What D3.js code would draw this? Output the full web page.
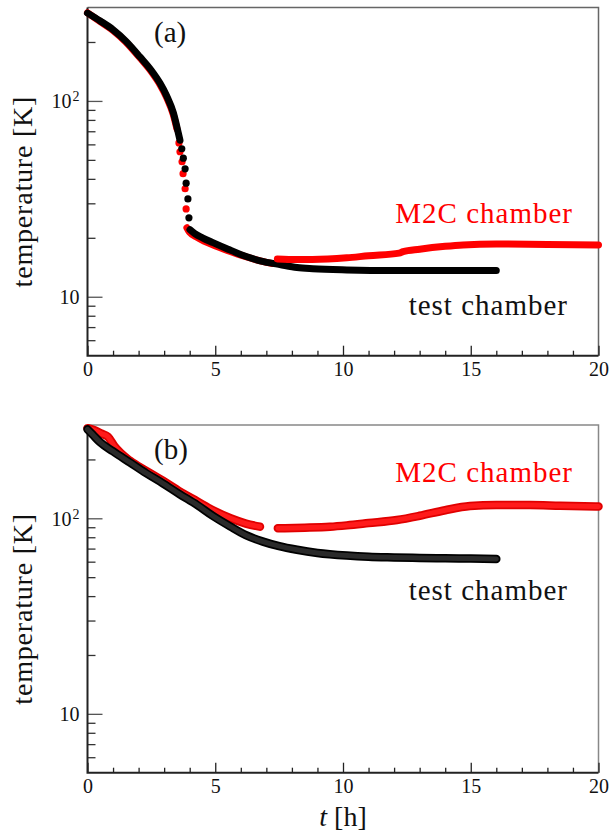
<!DOCTYPE html>
<html>
<head>
<meta charset="utf-8">
<script src="https://cdn.jsdelivr.net/npm/d3@7/dist/d3.min.js"></script>
<style>
  body { margin: 0; background: #fff; }
  svg text { font-family: "Liberation Serif", "Times New Roman", Tinos, "DejaVu Serif", "Noto Serif", serif !important; }
</style>
</head>
<body>
<div class="chart"></div>
<script>
// panel (a): time [h], temperature [K]
const aTestStart = [[0, 281], [0.5, 256], [1.0, 231], [1.5, 202], [2.05, 168], [2.5, 143], [2.84, 123], [3.1, 106], [3.36, 87], [3.55, 69], [3.62, 63]]
const aTestDrop = [[3.69, 57], [3.75, 51], [3.82, 45], [3.86, 38], [3.93, 31.6], [3.97, 25.3]]
const aTestEnd = [[4.01, 22], [4.2, 21], [4.5, 20], [4.91, 18.9], [5.5, 17.5], [6.24, 16], [6.8, 15.2], [7.53, 14.6], [8.2, 14.1], [8.82, 13.9], [10.15, 13.7], [12, 13.6], [14, 13.6], [16, 13.6]]
const aM2cStart = [[0, 282], [0.5, 254], [1.0, 229], [1.5, 200], [2.05, 166], [2.5, 141], [2.84, 121], [3.1, 104], [3.36, 85], [3.5, 72]]
const aM2cDrop = [[3.58, 61], [3.62, 55], [3.70, 48.9], [3.74, 42.5], [3.82, 35.6], [3.86, 28.1]]
const aM2cMid = [[3.89, 22.5], [4.0, 21.3], [4.3, 20.1], [4.9, 18.4], [5.5, 17.2], [6.2, 16.0], [6.8, 15.2], [7.2, 14.8]]
const aM2cEnd = [[7.43, 15.6], [8.2, 15.5], [8.8, 15.5], [10.15, 15.8], [11, 16.2], [12.2, 16.7], [12.35, 17.0], [13, 17.5], [14, 18.1], [14.7, 18.4], [16, 18.6], [18, 18.5], [20, 18.4]]

// panel (b)
const bTest = [[0, 285], [0.2, 268], [0.49, 245], [1.0, 220], [1.66, 193], [2.3, 170], [2.95, 151], [3.6, 133], [4.29, 117], [4.9, 103], [5.58, 91], [6.2, 82], [6.87, 76], [7.5, 72], [8.2, 69], [9, 66.5], [10.15, 64.5], [11, 63.6], [12, 63.1], [13, 62.7], [14, 62.4], [15, 62.2], [16, 62]]
const bM2cStart = [[0, 289], [0.3, 281], [0.55, 271], [0.8, 261], [1.05, 234], [1.66, 197], [2.3, 175], [2.95, 156], [3.62, 137], [4.3, 122], [4.91, 110], [5.6, 100], [6.2, 94], [6.75, 90.6]]
const bM2cEnd = [[7.45, 88.9], [8.5, 89.5], [9.49, 90.5], [10.15, 92], [11, 94.5], [12.11, 98], [13, 103], [14, 110], [14.97, 115.5], [16, 117], [17.32, 117], [18.5, 116], [20, 115]]

const xTicks = d3.range(0, 21)
const yTicks = [6, 7, 8, 9, 10, 20, 30, 40, 50, 60, 70, 80, 90, 100, 200]
const panelNames = ["(a)", "(b)"]
const seriesNames = ["M2C chamber", "test chamber"]

let width = 609, height = 833
let svg = d3.select(".chart")
    .append("svg")
    .attr("width", width)
    .attr("height", height)

let x = d3.scaleLinear().domain([0, 20]).range([87.5, 598.5])

function panel(top, bottom, name, labels, border) {
    let y = d3.scaleLog().domain([5, 300]).range([bottom, top])
    let g = svg.append("g")

    // box
    g.append("path")
        .attr("fill", "none")
        .attr("stroke", border)
        .attr("stroke-width", 1.5)
        .attr("d", `M${x(0)},${top} H${x(20)} V${bottom}`)

    // x axis
    let xa = g.append("g")
        .attr("transform", `translate(0,${bottom})`)
        .call(d3.axisBottom(x).tickValues(xTicks).tickSize(-5).tickPadding(6)
            .tickFormat(d => d % 5 === 0 ? d : ""))
    xa.select(".domain").remove()
    xa.selectAll(".tick line").attr("stroke", "#222").attr("stroke-width", 1.3)
        .filter(d => d % 5 === 0).attr("y2", -10)
    xa.selectAll("text").attr("font-size", 20).attr("fill", "#111")

    // y axis
    let ya = g.append("g")
        .attr("transform", `translate(${x(0)},0)`)
        .call(d3.axisLeft(y).tickValues(yTicks).tickSize(-8).tickPadding(7)
            .tickFormat(""))
    ya.select(".domain").remove()
    ya.selectAll(".tick line").attr("stroke", "#333").attr("stroke-width", 1.3)
        .filter(d => d === 10 || d === 100).attr("x2", 15).attr("stroke", "#555")
    ya.selectAll(".tick").filter(d => d === 10 || d === 100).each(function (d) {
        d3.select(this).select("text")
            .attr("font-size", 20).attr("fill", "#111")
            .attr("x", d === 100 ? -16 : -8)
            .attr("dy", "0.34em")
            .text("10")
        if (d === 100) {
            d3.select(this).append("text")
                .attr("x", -15).attr("dy", "0.0em")
                .attr("font-size", 14).attr("fill", "#111")
                .attr("text-anchor", "start")
                .text("2")
        }
    })

    // left + bottom axis lines
    g.append("path")
        .attr("fill", "none")
        .attr("stroke", "#222")
        .attr("stroke-width", 2)
        .attr("d", `M${x(0)},${top} V${bottom} H${x(20)}`)

    g.append("text")
        .attr("x", 154)
        .attr("y", top + 34)
        .attr("font-size", 29)
        .attr("fill", "#111")
        .text(name)

    g.append("text")
        .attr("transform", `translate(32,${(top + bottom) / 2 + 10}) rotate(-90)`)
        .attr("text-anchor", "middle")
        .attr("font-size", 28)
        .attr("letter-spacing", 0.8)
        .attr("fill", "#111")
        .text("temperature [K]")

    g.append("text")
        .attr("x", 573).attr("y", labels[0])
        .attr("text-anchor", "end")
        .attr("font-size", 29)
        .attr("letter-spacing", 1)
        .attr("fill", "#ff0000")
        .text(seriesNames[0])
    g.append("text")
        .attr("x", 568).attr("y", labels[1])
        .attr("text-anchor", "end")
        .attr("font-size", 29)
        .attr("letter-spacing", 1)
        .attr("fill", "#111")
        .text(seriesNames[1])

    return y
}

let yA = panel(7.5, 355.7, panelNames[0], [223, 315], "#666")
let yB = panel(425, 772.7, panelNames[1], [482, 600], "#888")

function band(y, data, color, w) {
    svg.append("path")
        .datum(data)
        .attr("fill", "none")
        .attr("stroke", color)
        .attr("stroke-width", w)
        .attr("stroke-linecap", "round")
        .attr("stroke-linejoin", "round")
        .attr("d", d3.line().x(d => x(d[0])).y(d => y(d[1])).curve(d3.curveMonotoneX))
}

function dots(y, data, color) {
    svg.append("g")
        .selectAll("circle")
        .data(data)
        .enter()
        .append("circle")
        .attr("cx", d => x(d[0]))
        .attr("cy", d => y(d[1]))
        .attr("r", 3.6)
        .attr("fill", color)
}

// panel (a)
band(yA, aM2cStart, "#ff0000", 7)
dots(yA, aM2cDrop, "#ff0000")
band(yA, aM2cMid, "#ff0000", 7)
band(yA, aTestStart, "#000", 7)
dots(yA, aTestDrop, "#000")
band(yA, aTestEnd, "#000", 7)
band(yA, aM2cEnd, "#ff0000", 7)

// panel (b): open-circle look, darker rim
band(yB, bM2cStart, "#e00000", 8.5)
band(yB, bM2cStart, "#ff1a1a", 5)
band(yB, bM2cEnd, "#e00000", 8.5)
band(yB, bM2cEnd, "#ff1a1a", 5)
band(yB, bTest, "#000", 8.5)
band(yB, bTest, "#2a2a2a", 5)

svg.append("text")
    .attr("x", 343)
    .attr("y", 826)
    .attr("text-anchor", "middle")
    .attr("font-size", 28)
    .attr("fill", "#111")
    .html('<tspan font-style="italic">t</tspan> [h]')
</script>
</body>
</html>
